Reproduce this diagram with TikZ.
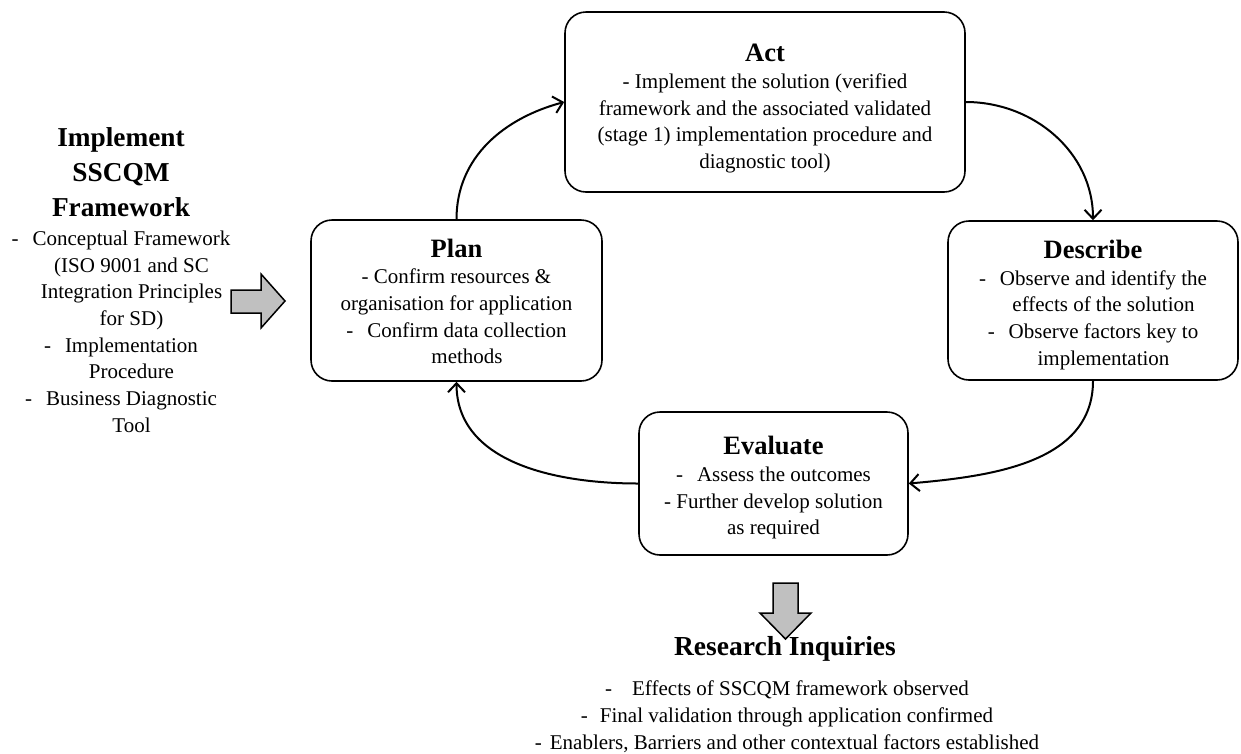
\documentclass[tikz,border=0pt]{standalone}
\usepackage{fontspec}
\setmainfont{Liberation Serif}
\usetikzlibrary{arrows.meta, positioning}

\definecolor{arrowgrey}{RGB}{192,192,192}
\newcommand{\boxtitle}[2][27pt]{{\fontsize{26.5}{26.7}\selectfont\bfseries\rule{0pt}{#1}#2}}

\tikzset{
  stage/.style={draw, line width=1.6pt, rounded corners=21pt, align=center,
    inner sep=0pt, font=\fontsize{21}{26.7}\selectfont},
  cycle/.style={line width=2pt, -{Straight Barb[length=9pt, width=17pt, line width=2pt]}},
  blockarrow/.style={draw, line width=1.5pt, fill=arrowgrey, line join=miter},
  bodytext/.style={align=center, inner sep=0pt, font=\fontsize{21}{26.7}\selectfont}
}

\begin{document}
\begin{tikzpicture}[x=1pt, y=-1pt]
      \useasboundingbox[fill=white] (0,0) rectangle (1241,753);

      \node[stage, minimum width=400pt, minimum height=180pt] (act) at (765,102)
        {\boxtitle[31pt]{Act}\\
         - Implement the solution (verified\\
         framework and the associated validated\\
         (stage 1) implementation procedure and\\
         diagnostic tool)};
      \node[stage, minimum width=291pt, minimum height=161pt] (plan) at (456.5,300.5)
        {\boxtitle[20pt]{Plan}\\
         - Confirm resources \&\\
         organisation for application\\
         -\hspace{14pt}Confirm data collection\\
         \hspace{21pt}methods};
      \node[stage, minimum width=290pt, minimum height=159pt] (describe) at (1093,300.5)
        {\boxtitle{Describe}\\
         -\hspace{14pt}Observe and identify the\\
         \hspace{21pt}effects of the solution\\
         -\hspace{14pt}Observe factors key to\\
         \hspace{21pt}implementation};
      \node[stage, minimum width=269pt, minimum height=143pt] (evaluate) at (773.5,483.5)
        {\boxtitle{Evaluate}\\
         -\hspace{14pt}Assess the outcomes\\
         - Further develop solution\\
         as required};

      \draw[cycle] (plan.north) to[out=90, in=195] (act.west);
      \draw[cycle] (act.east) to[out=0, in=90] (describe.north);
      \draw[cycle] (describe.south) to[out=-90, in=5] (evaluate.east);
      \draw[cycle] (evaluate.west) to[out=180, in=-90] (plan.south);

      \node[anchor=north, align=center, inner sep=0pt, font=\fontsize{27.3}{35}\selectfont\bfseries] (frametitle) at (121,127.5)
        {Implement\\ SSCQM\\ Framework};
      \node[bodytext, below=13.5pt of frametitle] (frameitems)
        {-\hspace{14pt}Conceptual Framework\\
         \hspace{21pt}(ISO 9001 and SC\\
         \hspace{21pt}Integration Principles\\
         \hspace{21pt}for SD)\\
         -\hspace{14pt}Implementation\\
         \hspace{21pt}Procedure\\
         -\hspace{14pt}Business Diagnostic\\
         \hspace{21pt}Tool};

      \draw[blockarrow] (231,290) -- (261,290) -- (261,274) -- (285,301)
        -- (261,328) -- (261,313) -- (231,313) -- cycle;
      \draw[blockarrow] (773,583) -- (798,583) -- (798,613) -- (811,613)
        -- (785.5,639) -- (760,613) -- (773,613) -- cycle;

      \node[anchor=base, inner sep=0pt, font=\fontsize{27.5}{33}\selectfont\bfseries] (inquiries) at (785,655)
        {Research Inquiries};
      \node[bodytext, anchor=south] (inquiryitems) at (787,752.5)
        {-\hspace{20pt}Effects of SSCQM framework observed\\
         -\hspace{12pt}Final validation through application confirmed\\
         -\hspace{8pt}Enablers, Barriers and other contextual factors established};
\end{tikzpicture}
\end{document}
